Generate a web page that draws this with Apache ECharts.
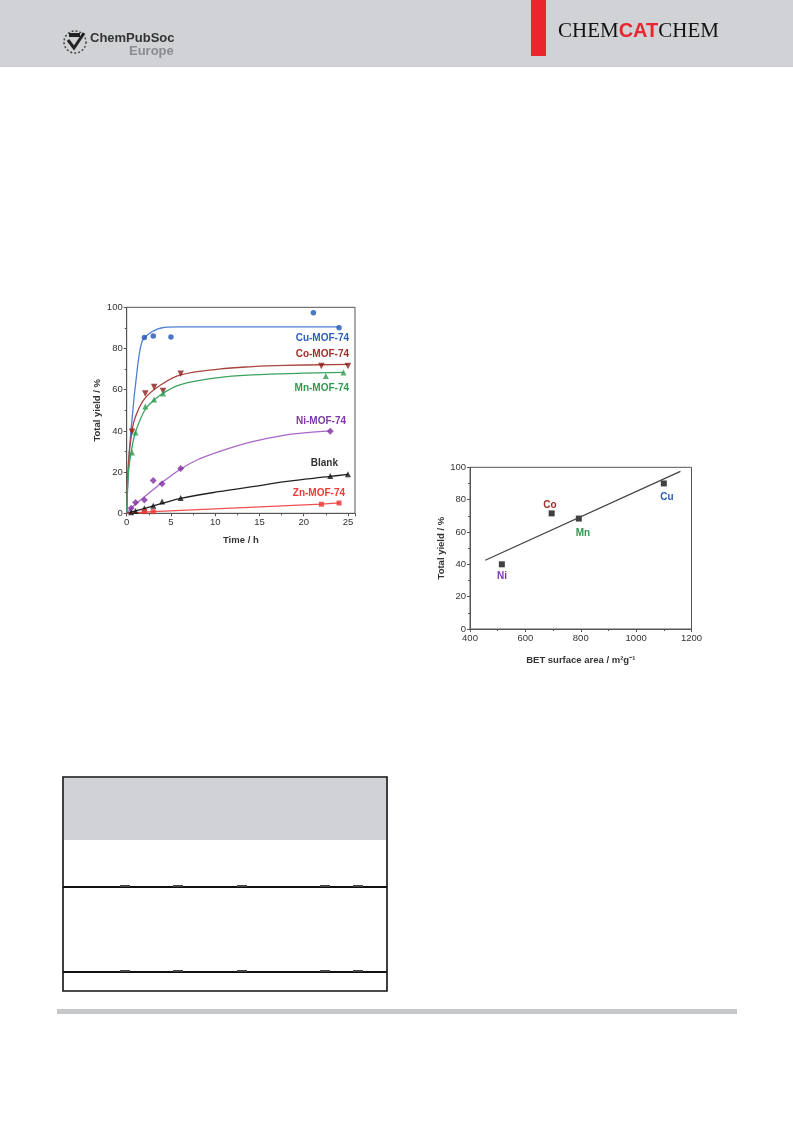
<!DOCTYPE html>
<html><head><meta charset="utf-8">
<script src="https://cdn.jsdelivr.net/npm/echarts@6/dist/echarts.min.js"></script>
<style>html,body{margin:0;padding:0;background:#fff;}#c{width:793px;height:1121px;}</style>
</head><body><div id="c"></div>
<script>
// ---- Left chart: Total yield vs time ----
const timeTicks = [0, 5, 10, 15, 20, 25];
const yieldTicks = [0, 20, 40, 60, 80, 100];
const cuPts = [[2, 85.3], [3, 86.1], [5, 85.6], [21.1, 97.4], [24, 90.1]];
const cuFit = [[0, 0], [0.3, 30], [0.7, 50], [0.95, 60.7], [1.7, 83], [2.8, 88], [4.3, 90.3], [6, 90.5], [12, 90.5], [24, 90.5]];
const coPts = [[0.6, 39.6], [2.1, 58.1], [3.1, 61.3], [4.1, 59.4], [6.1, 67.8], [22, 71.5], [25, 71.5]];
const coFit = [[0, 0], [0.2, 25], [0.6, 40], [1, 47], [2.1, 56], [4.1, 63], [6.1, 67.2], [10.4, 70], [14.2, 71.2], [17.9, 71.8], [25, 72.3]];
const mnPts = [[0.6, 29.5], [1, 39.2], [2.1, 51.8], [3.1, 55.3], [4.1, 58.1], [22.5, 66.7], [24.5, 68.4]];
const mnFit = [[0, 0], [0.2, 20], [0.6, 32], [1, 39.5], [2.1, 50.5], [3.1, 55], [4.1, 58.3], [6.1, 62.5], [10.4, 65.9], [14.2, 67.2], [20, 68], [24.5, 68.4]];
const niPts = [[0.5, 2.4], [1, 5.2], [2, 6.5], [3, 15.9], [4, 14.4], [6.1, 21.8], [23, 39.8]];
const niFit = [[0, 0], [1, 4.5], [2, 8], [3, 11.5], [4, 15], [6.1, 21.5], [8, 26], [10.4, 29.9], [14.2, 34.8], [17.9, 38], [20, 39], [23, 40]];
const blankPts = [[0.5, 0.5], [1, 1.1], [2, 2.4], [3, 3.7], [4, 5.7], [6.1, 7.4], [23, 18.1], [25, 18.9]];
const blankFit = [[0, 0], [1, 1.2], [2, 2.3], [3, 3.6], [4, 4.8], [6.1, 7.2], [10.4, 10.5], [14.2, 12.9], [17.9, 15.4], [23, 17.9], [25, 18.9]];
const znPts = [[2, 0.8], [3, 0.8], [22, 4.4], [24, 5.0]];
const znFit = [[0, 0], [2, 0.5], [3, 0.8], [22, 4.5], [24, 5.1]];
const seriesNames = ['Cu-MOF-74', 'Co-MOF-74', 'Mn-MOF-74', 'Ni-MOF-74', 'Blank', 'Zn-MOF-74'];

// ---- Right chart: Total yield vs BET surface area ----
const betTicks = [400, 600, 800, 1000, 1200];
const metals = ['Ni', 'Co', 'Mn', 'Cu'];
const betArea = [515, 695, 793, 1100];
const betYield = [40, 71.5, 68.3, 90];
const betFit = [[455, 42.5], [1160, 97.5]];

const chart = echarts.init(document.getElementById('c'), null, {renderer: 'canvas', width: 793, height: 1121});

const FONT = '"Liberation Sans", Arial, sans-serif';
const SERIF = '"Liberation Serif", "Times New Roman", serif';
const tickLabel = {fontFamily: FONT, fontSize: 9.5, color: '#333', margin: 4, formatter: (v) => String(v)};
const axisNameStyle = {fontFamily: FONT, fontSize: 9.5, fontWeight: 'bold', color: '#333'};
const axisLine = {show: true, lineStyle: {color: '#555', width: 1}};
const axisTick = {show: true, inside: false, length: 3, lineStyle: {color: '#555'}};
const minorTick = {show: true, splitNumber: 2, length: 2, lineStyle: {color: '#555'}};

const cols = {
  cu: {m: '#1f55b5', l: '#4a7fd4', t: '#2d5fb8'},
  co: {m: '#8a1c1c', l: '#a8453c', t: '#a0302c'},
  mn: {m: '#2e9a4e', l: '#3aa35c', t: '#2e9a50'},
  ni: {m: '#8030a0', l: '#a868c8', t: '#8038a8'},
  bl: {m: '#111', l: '#222', t: '#333'},
  zn: {m: '#f03030', l: '#f05050', t: '#f03a3a'}
};

function fit(data, color, smooth) {
  return {type: 'line', xAxisIndex: 0, yAxisIndex: 0, data: data, smooth: smooth === undefined ? 0.4 : smooth,
    showSymbol: false, symbol: 'none', lineStyle: {color: color, width: 1.3}, z: 2, silent: true};
}
function pts(data, color, symbol, rot, size) {
  return {type: 'scatter', xAxisIndex: 0, yAxisIndex: 0, data: data, symbol: symbol, symbolRotate: rot || 0,
    symbolSize: size || 5.5, itemStyle: {color: color}, z: 3, silent: true};
}

const labelStyle = (c) => ({fontFamily: FONT, fontSize: 10, fontWeight: 'bold', fill: c, textAlign: 'right', textVerticalAlign: 'middle'});
const metalStyle = (c) => ({fontFamily: FONT, fontSize: 10, fontWeight: 'bold', fill: c, textAlign: 'center', textVerticalAlign: 'middle'});

const option = {
  animation: false,
  backgroundColor: '#ffffff',
  grid: [
    {left: 126.7, top: 307.3, width: 228.3, height: 206, show: true, borderColor: '#555', borderWidth: 1, backgroundColor: 'transparent'},
    {left: 470, top: 467.3, width: 221.5, height: 161.7, show: true, borderColor: '#555', borderWidth: 1, backgroundColor: 'transparent'}
  ],
  xAxis: [
    {gridIndex: 0, type: 'value', min: timeTicks[0], max: 25.8, interval: 5, name: 'Time / h', nameLocation: 'middle', nameGap: 22,
      nameTextStyle: axisNameStyle, axisLine: axisLine, axisTick: axisTick, minorTick: minorTick, splitLine: {show: false},
      axisLabel: Object.assign({}, tickLabel, {showMaxLabel: false})},
    {gridIndex: 1, type: 'value', min: betTicks[0], max: betTicks[betTicks.length - 1], interval: 200, name: 'BET surface area / m\u00B2g\u207B\u00B9', nameLocation: 'middle', nameGap: 26,
      nameTextStyle: axisNameStyle, axisLine: axisLine, axisTick: axisTick, minorTick: minorTick, splitLine: {show: false}, axisLabel: tickLabel}
  ],
  yAxis: [
    {gridIndex: 0, type: 'value', min: yieldTicks[0], max: yieldTicks[yieldTicks.length - 1], interval: 20, name: 'Total yield / %', nameLocation: 'middle', nameGap: 24,
      nameTextStyle: axisNameStyle, axisLine: axisLine, axisTick: axisTick, minorTick: minorTick, splitLine: {show: false}, axisLabel: tickLabel},
    {gridIndex: 1, type: 'value', min: 0, max: 100, interval: 20, name: 'Total yield / %', nameLocation: 'middle', nameGap: 23,
      nameTextStyle: axisNameStyle, axisLine: axisLine, axisTick: axisTick, minorTick: minorTick, splitLine: {show: false}, axisLabel: tickLabel}
  ],
  series: [
    fit(cuFit, cols.cu.l, 0.3), pts(cuPts, cols.cu.m, 'circle', 0, 5.5),
    fit(coFit, cols.co.l), pts(coPts, cols.co.m, 'triangle', 180, 6.5),
    fit(mnFit, cols.mn.l), pts(mnPts, cols.mn.m, 'triangle', 0, 6),
    fit(niFit, cols.ni.l), pts(niPts, cols.ni.m, 'diamond', 0, 7),
    fit(blankFit, cols.bl.l), pts(blankPts, cols.bl.m, 'triangle', 0, 6),
    fit(znFit, cols.zn.l, 0), pts(znPts, cols.zn.m, 'rect', 0, 5),
    {type: 'line', xAxisIndex: 1, yAxisIndex: 1, data: betFit, symbol: 'none', lineStyle: {color: '#444', width: 1.3}, silent: true},
    {type: 'scatter', xAxisIndex: 1, yAxisIndex: 1, data: betArea.map((a, i) => [a, betYield[i]]), symbol: 'rect', symbolSize: 6, itemStyle: {color: '#111'}, silent: true}
  ],
  graphic: [
    // header band
    {type: 'rect', shape: {x: 0, y: 0, width: 793, height: 67}, style: {fill: '#d1d2d6'}, z: -10},
    {type: 'rect', shape: {x: 531, y: 0, width: 15, height: 56}, style: {fill: '#e8262b'}},
    {type: 'text', x: 558, y: 31, style: {
      text: '{a|CHEM}{b|CAT}{a|CHEM}', textVerticalAlign: 'middle',
      rich: {a: {fontFamily: SERIF, fontSize: 21, fill: '#111'}, b: {fontFamily: FONT, fontSize: 20, fontWeight: 'bold', fill: '#e8262b'}}
    }},
    // ChemPubSoc logo
    {type: 'text', x: 90, y: 38, style: {text: 'ChemPubSoc', fontFamily: '"Liberation Sans Narrow", ' + FONT, fontSize: 13, fontWeight: 'bold', fill: '#333', textVerticalAlign: 'middle'}},
    {type: 'text', x: 129, y: 51, style: {text: 'Europe', fontFamily: FONT, fontSize: 13, fontWeight: 'bold', fill: '#8a8b8f', textVerticalAlign: 'middle'}},
    {type: 'circle', shape: {cx: 75, cy: 42, r: 11}, style: {fill: 'none', stroke: '#444', lineWidth: 1.5, lineDash: [2, 2]}},
    {type: 'polyline', shape: {points: [[68, 40], [74, 48], [84, 33]]}, style: {stroke: '#222', lineWidth: 3, fill: 'none'}},
    {type: 'rect', shape: {x: 69, y: 33, width: 11, height: 4}, style: {fill: '#222'}},
    // left chart series labels
    {type: 'text', x: 349, y: 338, style: Object.assign({text: seriesNames[0]}, labelStyle(cols.cu.t))},
    {type: 'text', x: 349, y: 354, style: Object.assign({text: seriesNames[1]}, labelStyle(cols.co.t))},
    {type: 'text', x: 349, y: 388, style: Object.assign({text: seriesNames[2]}, labelStyle(cols.mn.t))},
    {type: 'text', x: 346, y: 421, style: Object.assign({text: seriesNames[3]}, labelStyle(cols.ni.t))},
    {type: 'text', x: 338, y: 463, style: Object.assign({text: seriesNames[4]}, labelStyle(cols.bl.t))},
    {type: 'text', x: 345, y: 493, style: Object.assign({text: seriesNames[5]}, labelStyle(cols.zn.t))},
    // right chart point labels
    {type: 'text', x: 550, y: 505, style: Object.assign({text: metals[1]}, metalStyle(cols.co.t))},
    {type: 'text', x: 583, y: 533, style: Object.assign({text: metals[2]}, metalStyle(cols.mn.t))},
    {type: 'text', x: 502, y: 576, style: Object.assign({text: metals[0]}, metalStyle(cols.ni.t))},
    {type: 'text', x: 667, y: 497, style: Object.assign({text: metals[3]}, metalStyle(cols.cu.t))},
    // table box
    {type: 'rect', shape: {x: 64, y: 778, width: 322, height: 62}, style: {fill: '#d1d2d5'}},
    {type: 'rect', shape: {x: 63, y: 777, width: 324, height: 214}, style: {fill: 'none', stroke: '#111', lineWidth: 1.6}},
    {type: 'line', shape: {x1: 63, y1: 887, x2: 387, y2: 887}, style: {stroke: '#111', lineWidth: 2}},
    {type: 'line', shape: {x1: 63, y1: 972, x2: 387, y2: 972}, style: {stroke: '#111', lineWidth: 1.8}},
    // bottom rule
    {type: 'rect', shape: {x: 57, y: 1009, width: 680, height: 5}, style: {fill: '#c6c7cb'}}
  ]
};
// small dashes on table rules
[120, 173, 237, 320, 353].forEach(x => {
  [885, 970].forEach(y => option.graphic.push({type: 'rect', shape: {x: x, y: y, width: 10, height: 2}, style: {fill: '#444'}}));
});
chart.setOption(option);
</script></body></html>
